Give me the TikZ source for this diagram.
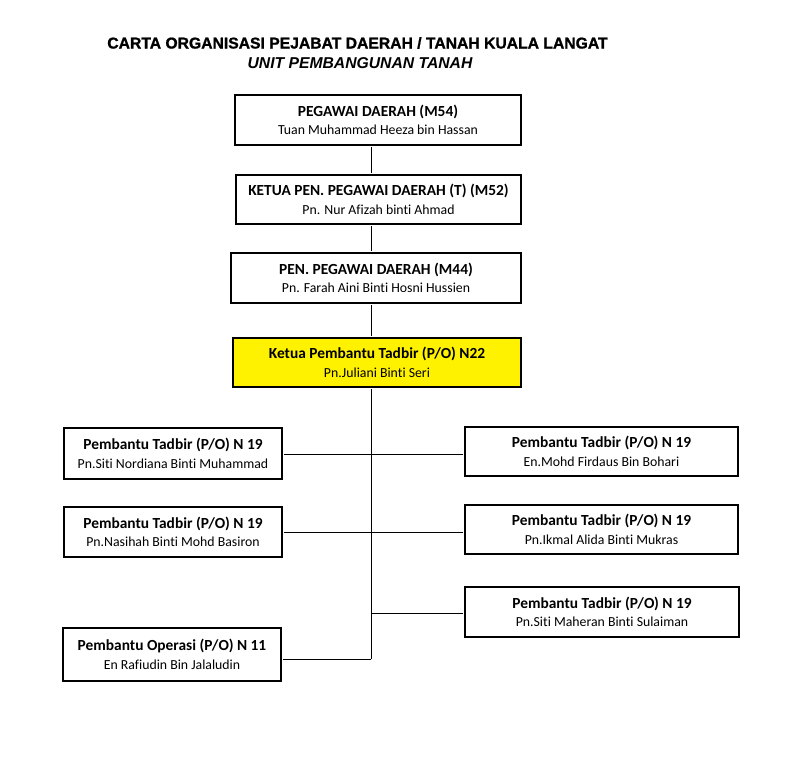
\documentclass[tikz,border=0pt]{standalone}
\usepackage{fontspec}
\setmainfont[Ligatures=NoCommon]{Carlito}
\newfontfamily\titlefont[BoldFeatures={FakeBold=1.2}]{Liberation Sans}
\newcommand{\hd}[1]{{\fontsize{15.4}{18.5}\selectfont\bfseries #1}}
\begin{document}
\begin{tikzpicture}[x=1pt,y=-1pt,
  orgbox/.style={draw=black,line width=2pt,fill=white,inner sep=0pt,align=center,
    font=\fontsize{13.8}{18.5}\selectfont},
  conn/.style={draw=black,line width=1pt}]
\useasboundingbox (0,0) rectangle (792,766);
\node[font=\titlefont\fontsize{15.7}{20}\selectfont\bfseries] (t1) at (357.5,43) {CARTA ORGANISASI PEJABAT DAERAH / TANAH KUALA LANGAT};
\node[font=\titlefont\fontsize{15.7}{20}\selectfont\bfseries\itshape] (t2) at (360,63) {UNIT PEMBANGUNAN TANAH};

\node[orgbox,minimum width=286pt,minimum height=50pt] (B1) at (378,120)
  {\hd{PEGAWAI DAERAH (M54)}\\Tuan Muhammad Heeza bin Hassan};
\node[orgbox,minimum width=285pt,minimum height=49pt] (B2) at (378.5,199.5)
  {\hd{KETUA PEN. PEGAWAI DAERAH (T) (M52)}\\Pn. Nur Afizah binti Ahmad};
\node[orgbox,minimum width=290pt,minimum height=50pt] (B3) at (376,278)
  {\hd{PEN. PEGAWAI DAERAH (M44)}\\Pn. Farah Aini Binti Hosni Hussien};
\node[orgbox,fill=yellow,minimum width=288pt,minimum height=49pt] (B4) at (377,362.5)
  {\hd{Ketua Pembantu Tadbir (P/O) N22}\\Pn.Juliani Binti Seri};

\node[orgbox,minimum width=218pt,minimum height=51pt] (L1) at (173,453.5)
  {\hd{Pembantu Tadbir (P/O) N 19}\\Pn.Siti Nordiana Binti Muhammad};
\node[orgbox,minimum width=218pt,minimum height=50pt] (L2) at (173,532)
  {\hd{Pembantu Tadbir (P/O) N 19}\\Pn.Nasihah Binti Mohd Basiron};
\node[orgbox,minimum width=218pt,minimum height=53pt] (L3) at (172,654.5)
  {\hd{Pembantu Operasi (P/O) N 11}\\En Rafiudin Bin Jalaludin};

\node[orgbox,minimum width=273pt,minimum height=49pt] (R1) at (601.5,451.5)
  {\hd{Pembantu Tadbir (P/O) N 19}\\En.Mohd Firdaus Bin Bohari};
\node[orgbox,minimum width=273pt,minimum height=49pt] (R2) at (601.5,529.5)
  {\hd{Pembantu Tadbir (P/O) N 19}\\Pn.Ikmal Alida Binti Mukras};
\node[orgbox,minimum width=274pt,minimum height=50pt] (R3) at (602,612)
  {\hd{Pembantu Tadbir (P/O) N 19}\\Pn.Siti Maheran Binti Sulaiman};

\coordinate (t) at (371,0);
\coordinate (tb) at (371,659);
\draw[conn] ([yshift=-1pt]B1.south -| t) -- ([yshift=1pt]B2.north -| t);
\draw[conn] ([yshift=-1pt]B2.south -| t) -- ([yshift=1pt]B3.north -| t);
\draw[conn] ([yshift=-1pt]B3.south -| t) -- ([yshift=1pt]B4.north -| t);
\draw[conn] ([yshift=-1pt]B4.south -| t) -- (tb);
\draw[conn] ([xshift=1pt]L1.east |- 0,454) -- (t |- 0,454);
\draw[conn] (t |- 0,454) -- ([xshift=-1pt]R1.west |- 0,454);
\draw[conn] ([xshift=1pt]L2.east |- 0,532) -- (t |- 0,532);
\draw[conn] (t |- 0,532) -- ([xshift=-1pt]R2.west |- 0,532);
\draw[conn] (t |- 0,613) -- ([xshift=-1pt]R3.west |- 0,613);
\draw[conn] ([xshift=1pt]L3.east |- tb) -- (tb);
\end{tikzpicture}
\end{document}
